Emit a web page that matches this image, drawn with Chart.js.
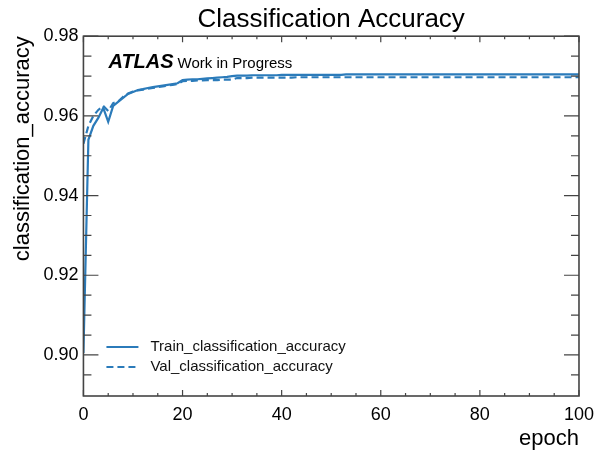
<!DOCTYPE html>
<html lang="en">
<head>
    <meta charset="UTF-8">
    <title>Classification Accuracy</title>
    <script src="https://cdn.jsdelivr.net/npm/chart.js"></script>
    <style>
        html, body { margin: 0; padding: 0; background: #fff; }
        #wrap { width: 594px; height: 452px; }
    </style>
</head>
<body>
    <div id="wrap"><canvas id="accChart" width="594" height="452"></canvas></div>
    <script>
        // epochs 0..100
        const epochs = Array.from({ length: 101 }, (_, i) => i);

        const trainAcc = [
            0.9005, 0.9540, 0.9575, 0.9595, 0.9620, 0.9585, 0.9625, 0.9635, 0.9645, 0.9655,
            0.9660, 0.9665, 0.9667, 0.9670, 0.9672, 0.9674, 0.9676, 0.9678, 0.9680, 0.9682,
            0.9690, 0.9691, 0.9692, 0.9692, 0.9693, 0.9694, 0.9695, 0.9696, 0.9697, 0.9698,
            0.9700, 0.9701, 0.9701, 0.9701, 0.9702, 0.9702, 0.9702, 0.9702, 0.9702, 0.9702,
            0.9703, 0.9703, 0.9703, 0.9703, 0.9703, 0.9703, 0.9703, 0.9703, 0.9703, 0.9703,
            0.9703, 0.9703, 0.9703, 0.9704, 0.9704, 0.9704, 0.9704, 0.9704, 0.9704, 0.9704,
            0.9704, 0.9704, 0.9704, 0.9704, 0.9704, 0.9704, 0.9704, 0.9704, 0.9704, 0.9704,
            0.9704, 0.9704, 0.9704, 0.9704, 0.9704, 0.9704, 0.9704, 0.9704, 0.9704, 0.9704,
            0.9704, 0.9704, 0.9704, 0.9704, 0.9704, 0.9704, 0.9704, 0.9704, 0.9704, 0.9704,
            0.9704, 0.9704, 0.9704, 0.9704, 0.9704, 0.9704, 0.9704, 0.9704, 0.9704, 0.9704,
            0.9704
        ];

        const valAcc = [
            0.9530, 0.9575, 0.9600, 0.9615, 0.9625, 0.9612, 0.9632, 0.9636, 0.9648, 0.9656,
            0.9661, 0.9664, 0.9666, 0.9668, 0.9670, 0.9672, 0.9674, 0.9676, 0.9678, 0.9680,
            0.9687, 0.9688, 0.9688, 0.9689, 0.9689, 0.9690, 0.9690, 0.9690, 0.9691, 0.9691,
            0.9691, 0.9695, 0.9695, 0.9695, 0.9696, 0.9696, 0.9696, 0.9696, 0.9696, 0.9696,
            0.9696, 0.9696, 0.9696, 0.9697, 0.9697, 0.9697, 0.9697, 0.9697, 0.9697, 0.9697,
            0.9697, 0.9697, 0.9697, 0.9697, 0.9697, 0.9697, 0.9697, 0.9697, 0.9697, 0.9697,
            0.9697, 0.9697, 0.9697, 0.9697, 0.9697, 0.9697, 0.9697, 0.9697, 0.9697, 0.9697,
            0.9697, 0.9697, 0.9697, 0.9697, 0.9697, 0.9697, 0.9697, 0.9697, 0.9697, 0.9697,
            0.9697, 0.9697, 0.9697, 0.9697, 0.9697, 0.9697, 0.9697, 0.9697, 0.9697, 0.9697,
            0.9697, 0.9697, 0.9697, 0.9697, 0.9697, 0.9697, 0.9697, 0.9697, 0.9697, 0.9697,
            0.9697
        ];

        const xTicks = [0, 20, 40, 60, 80, 100];
        const yTicks = [0.90, 0.92, 0.94, 0.96, 0.98];

        const blue = '#2b7bba';
        const font = '"Liberation Sans", Arial, sans-serif';

        // matplotlib style ticks: pointing inward, on all four sides
        const inwardTicks = {
            id: 'inwardTicks',
            afterDraw(chart) {
                const { ctx, chartArea: a, scales: { x, y } } = chart;
                ctx.save();
                ctx.strokeStyle = '#444';
                ctx.lineWidth = 1.2;
                ctx.beginPath();
                for (let v = 0; v <= 100; v += 5) {
                    const px = x.getPixelForValue(v);
                    const len = v % 20 === 0 ? 6 : 3;
                    ctx.moveTo(px, a.bottom); ctx.lineTo(px, a.bottom - len);
                    ctx.moveTo(px, a.top); ctx.lineTo(px, a.top + len);
                }
                for (let k = 179; k <= 196; k++) {
                    const v = k * 0.005;
                    if (v < y.min || v > y.max + 1e-9) continue;
                    const py = y.getPixelForValue(v);
                    const len = k % 4 === 0 ? 15 : 8;
                    ctx.moveTo(a.left, py); ctx.lineTo(a.left + len, py);
                    ctx.moveTo(a.right, py); ctx.lineTo(a.right - len, py);
                }
                ctx.stroke();
                ctx.lineWidth = 1.6;
                ctx.strokeRect(a.left, a.top, a.right - a.left, a.bottom - a.top);

                // ATLAS label
                ctx.fillStyle = '#000';
                ctx.textBaseline = 'alphabetic';
                ctx.font = 'italic bold 20px ' + font;
                ctx.fillText('ATLAS', a.left + 25, a.top + 32);
                const w = ctx.measureText('ATLAS').width;
                ctx.font = '15px ' + font;
                ctx.fillText('Work in Progress', a.left + 29 + w, a.top + 32);

                // legend
                const items = chart.data.datasets;
                items.forEach((ds, i) => {
                    const ly = a.bottom - 49 + i * 20;
                    ctx.strokeStyle = ds.borderColor;
                    ctx.lineWidth = ds.borderWidth;
                    ctx.setLineDash(ds.borderDash || []);
                    ctx.beginPath();
                    ctx.moveTo(a.left + 23, ly);
                    ctx.lineTo(a.left + 55, ly);
                    ctx.stroke();
                    ctx.setLineDash([]);
                    ctx.fillStyle = '#111';
                    ctx.font = '15px ' + font;
                    ctx.textBaseline = 'middle';
                    ctx.fillText(ds.label, a.left + 67, ly);
                });
                ctx.restore();
            }
        };

        new Chart(document.getElementById('accChart'), {
            type: 'line',
            data: {
                labels: epochs,
                datasets: [{
                    label: 'Train_classification_accuracy',
                    data: trainAcc,
                    borderColor: blue,
                    borderWidth: 2.2,
                    pointRadius: 0,
                    tension: 0
                }, {
                    label: 'Val_classification_accuracy',
                    data: valAcc,
                    borderColor: blue,
                    borderWidth: 2.2,
                    borderDash: [7, 4],
                    pointRadius: 0,
                    tension: 0
                }]
            },
            options: {
                responsive: false,
                animation: false,
                layout: { padding: { left: 10, right: 12, top: 0, bottom: 0 } },
                plugins: {
                    legend: { display: false },
                    tooltip: { enabled: false },
                    title: {
                        display: true,
                        fullSize: false,
                        text: 'Classification Accuracy',
                        color: '#000',
                        font: { family: font, size: 26, weight: 'normal' },
                        padding: { top: 4, bottom: 1 }
                    }
                },
                scales: {
                    x: {
                        type: 'linear',
                        min: 0,
                        max: 100,
                        afterBuildTicks: s => { s.ticks = xTicks.map(v => ({ value: v })); },
                        ticks: { color: '#000', font: { family: font, size: 18 }, padding: 0, maxRotation: 0 },
                        grid: { display: false },
                        border: { display: false },
                        title: {
                            display: true,
                            text: 'epoch',
                            align: 'end',
                            color: '#000',
                            font: { family: font, size: 22 },
                            padding: { top: 0, bottom: 0 }
                        }
                    },
                    y: {
                        min: 0.8897,
                        max: 0.98,
                        afterBuildTicks: s => { s.ticks = yTicks.map(v => ({ value: v })); },
                        ticks: {
                            color: '#000',
                            font: { family: font, size: 18 },
                            padding: 5,
                            callback: v => v.toFixed(2)
                        },
                        grid: { display: false, drawTicks: false },
                        border: { display: false },
                        title: {
                            display: true,
                            text: 'classification_accuracy',
                            align: 'end',
                            color: '#000',
                            font: { family: font, size: 22 },
                            padding: { top: 0, bottom: 2 }
                        }
                    }
                }
            },
            plugins: [inwardTicks]
        });
    </script>
</body>
</html>
